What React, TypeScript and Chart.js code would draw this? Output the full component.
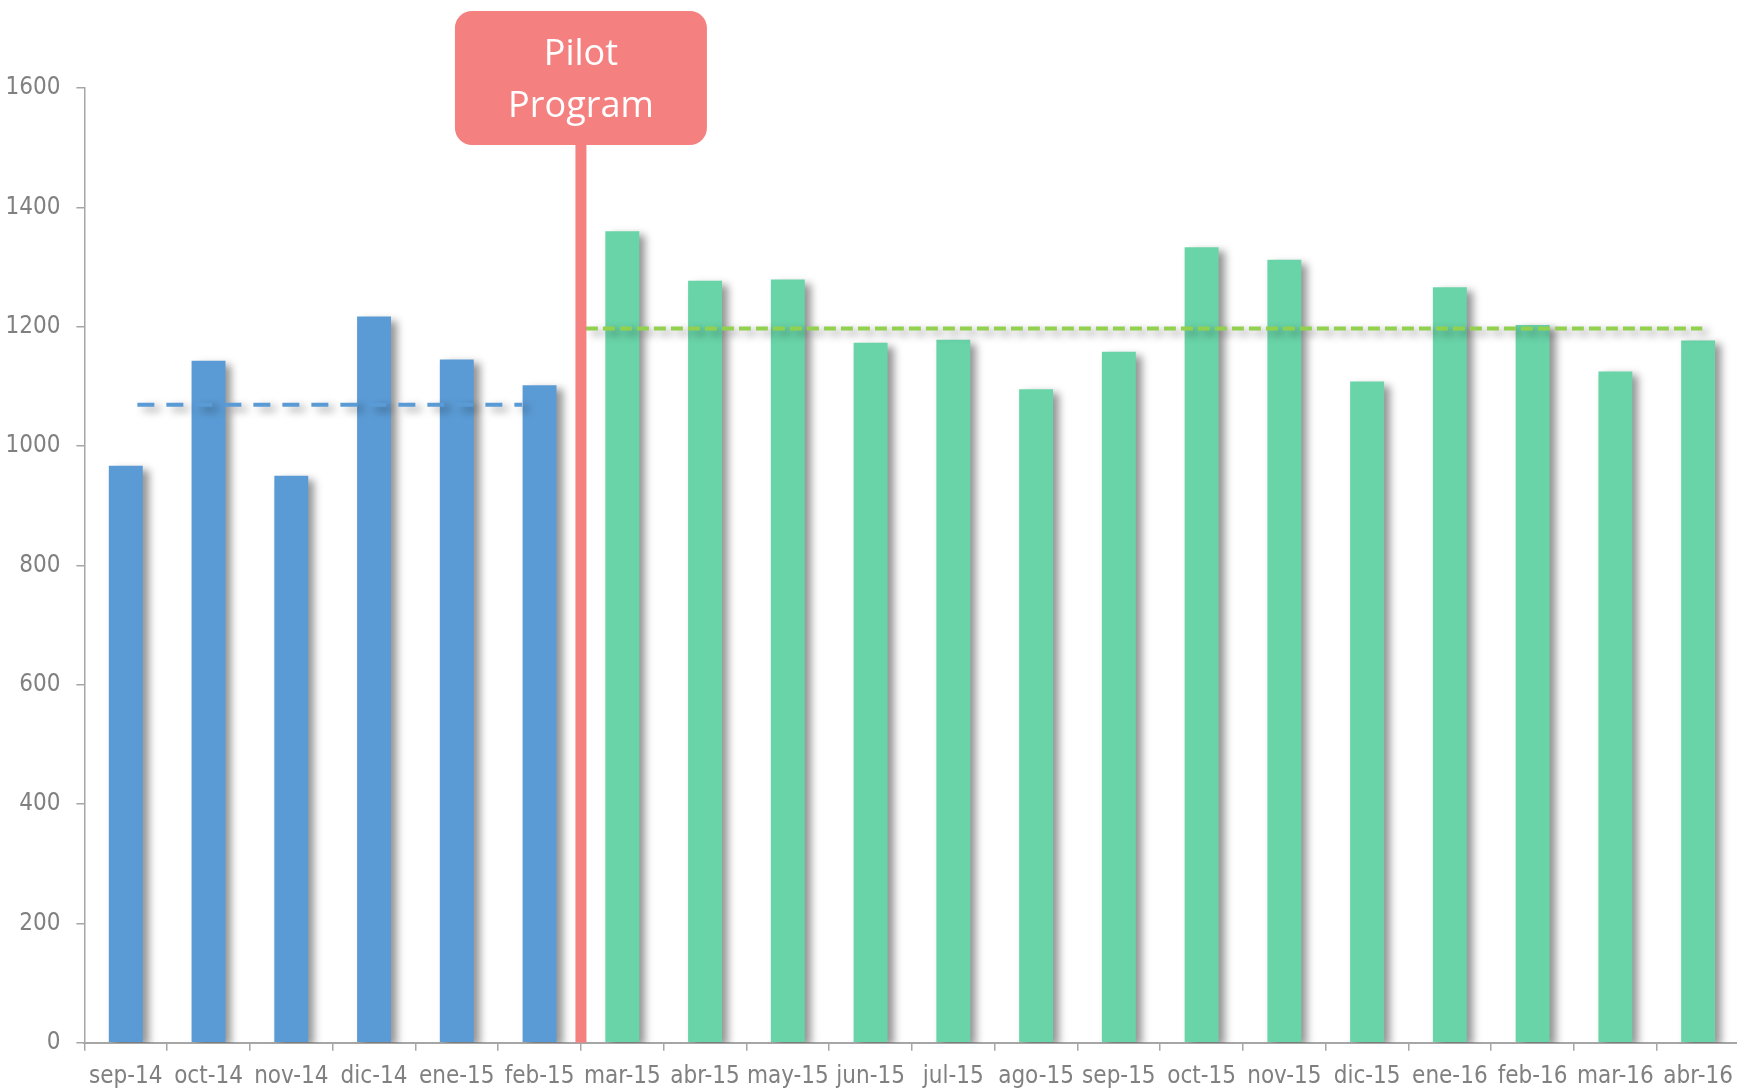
import React, { useEffect, useRef } from 'react';
import { Chart, registerables } from 'chart.js';

Chart.register(...registerables);

const categories = [
  'sep-14', 'oct-14', 'nov-14', 'dic-14', 'ene-15', 'feb-15', 'mar-15', 'abr-15', 'may-15', 'jun-15',
  'jul-15', 'ago-15', 'sep-15', 'oct-15', 'nov-15', 'dic-15', 'ene-16', 'feb-16', 'mar-16', 'abr-16',
];
const monthlyValues = [
  967, 1143, 950, 1217, 1145, 1102, 1360, 1277, 1279, 1173,
  1178, 1095, 1158, 1333, 1312, 1108, 1266, 1203, 1125, 1177,
];
const pilotStartIndex = 6;
const preAverage = 1069;
const postAverage = 1197;
const preLineSpan = [0.14, 4.79];
const postLineSpan = [5.56, 19.05];
const pilotMarkerPosition = 5.5;
const pilotLabelLines = ['Pilot', 'Program'];
const yMin = 0;
const yMax = 1600;
const yStep = 200;

const BLUE = '#5B9BD5';
const GREEN = '#69D4A8';
const LIME = '#92D050';
const PINK = '#F48180';
const AXIS = '#A6A6A6';
const LABEL = '#808080';
const NARROW = "'Liberation Sans Narrow', 'Arial Narrow', 'DejaVu Sans Condensed', sans-serif";

const shadowPlugin = {
  id: 'softShadow',
  beforeDatasetDraw(chart: any, args: any) {
    const ds = chart.data.datasets[args.index];
    if (!ds.shadow) return;
    const ctx = chart.ctx;
    ctx.save();
    ctx.shadowColor = 'rgba(0,0,0,0.42)';
    ctx.shadowBlur = 8;
    ctx.shadowOffsetX = 6;
    ctx.shadowOffsetY = 4;
  },
  afterDatasetDraw(chart: any, args: any) {
    const ds = chart.data.datasets[args.index];
    if (!ds.shadow) return;
    chart.ctx.restore();
  },
};

const pilotBoxPlugin = {
  id: 'pilotBox',
  afterDraw(chart: any) {
    const ctx = chart.ctx;
    const cx = chart.scales.x2.getPixelForValue(pilotMarkerPosition);
    const w = 252;
    const h = 134;
    const top = 11;
    ctx.save();
    ctx.fillStyle = PINK;
    ctx.beginPath();
    ctx.roundRect(cx - w / 2, top, w, h, 17);
    ctx.fill();
    ctx.fillStyle = '#FFFFFF';
    ctx.font = "36px 'Open Sans', sans-serif";
    ctx.textAlign = 'center';
    ctx.textBaseline = 'alphabetic';
    ctx.fillText(pilotLabelLines[0], cx, 65);
    ctx.fillText(pilotLabelLines[1], cx, 117);
    ctx.restore();
  },
};

export default function App() {
  const ref = useRef<HTMLCanvasElement | null>(null);

  useEffect(() => {
    if (!ref.current) return;
    const barColors = monthlyValues.map((_, i) => (i < pilotStartIndex ? BLUE : GREEN));
    const chart = new Chart(ref.current, {
      type: 'bar',
      data: {
        labels: categories,
        datasets: [
          {
            type: 'line',
            data: [
              { x: pilotMarkerPosition, y: yMin },
              { x: pilotMarkerPosition, y: yMax },
            ],
            xAxisID: 'x2',
            borderColor: PINK,
            borderWidth: 11,
            borderCapStyle: 'butt',
            pointRadius: 0,
            order: 0,
          } as any,
          {
            type: 'line',
            data: [
              { x: preLineSpan[0], y: preAverage },
              { x: preLineSpan[1], y: preAverage },
            ],
            xAxisID: 'x2',
            borderColor: BLUE,
            borderWidth: 4,
            borderDash: [17, 12],
            borderCapStyle: 'butt',
            pointRadius: 0,
            shadow: true,
            order: 1,
          } as any,
          {
            type: 'line',
            data: [
              { x: postLineSpan[0], y: postAverage },
              { x: postLineSpan[1], y: postAverage },
            ],
            xAxisID: 'x2',
            borderColor: LIME,
            borderWidth: 4,
            borderDash: [12, 5],
            borderCapStyle: 'butt',
            pointRadius: 0,
            shadow: true,
            order: 1,
          } as any,
          {
            type: 'bar',
            xAxisID: 'x',
            data: monthlyValues,
            backgroundColor: barColors,
            borderWidth: 0,
            barPercentage: 0.41,
            categoryPercentage: 1,
            grouped: false,
            shadow: true,
            order: 2,
          } as any,
        ],
      },
      options: {
        animation: false,
        responsive: false,
        events: [],
        layout: { padding: { top: 88, left: 0, right: 4, bottom: 0 } },
        plugins: {
          legend: { display: false },
          tooltip: { enabled: false },
          title: { display: false },
        },
        scales: {
          x: {
            type: 'category',
            offset: true,
            grid: {
              display: true,
              drawOnChartArea: false,
              drawTicks: true,
              tickLength: 8,
              color: AXIS,
              lineWidth: 1.5,
              offset: true,
            },
            border: { display: true, color: AXIS, width: 2 },
            ticks: {
              color: LABEL,
              font: { family: NARROW, size: 24 },
              padding: 12,
              maxRotation: 0,
              autoSkip: false,
            },
            afterFit: (s: any) => {
              s.height = 47.3;
            },
          },
          x2: {
            type: 'linear',
            min: -0.5,
            max: categories.length - 0.5,
            offset: false,
            display: false,
            grid: { offset: false },
          },
          y: {
            min: yMin,
            max: yMax,
            grid: {
              display: true,
              drawOnChartArea: false,
              drawTicks: true,
              tickLength: 8,
              color: AXIS,
              lineWidth: 1.5,
            },
            border: { display: true, color: AXIS, width: 1.5 },
            ticks: {
              stepSize: yStep,
              color: LABEL,
              font: { family: NARROW, size: 24 },
              padding: 16,
              callback: (v: any) => String(v),
            },
            afterFit: (s: any) => {
              s.width = 84.4;
            },
          },
        },
      } as any,
      plugins: [shadowPlugin, pilotBoxPlugin],
    });
    return () => chart.destroy();
  }, []);

  return (
    <div
      style={{
        position: 'absolute',
        left: 0,
        top: 0,
        width: 1737,
        height: 1090,
        overflow: 'hidden',
        background: '#FFFFFF',
      }}
    >
      <canvas ref={ref} width={1745} height={1090} style={{ width: 1745, height: 1090, display: 'block' }} />
    </div>
  );
}
